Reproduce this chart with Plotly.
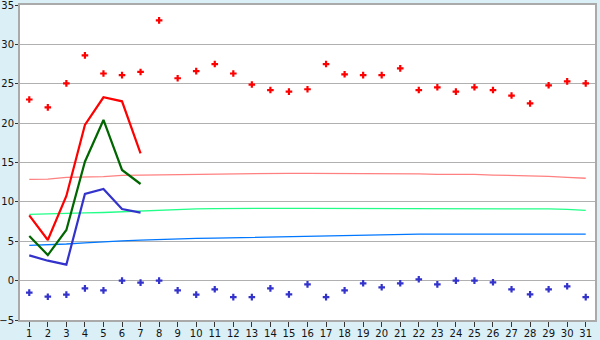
import plotly.graph_objects as go

days = list(range(1, 32))
max_pts = [23.0, 22.0, 25.05, 28.6, 26.3, 26.1, 26.5, 33.05, 25.7, 26.6,
           27.5, 26.3, 24.9, 24.2, 24.0, 24.3, 27.5, 26.2, 26.1, 26.1,
           26.95, 24.2, 24.55, 24.0, 24.55, 24.2, 23.5, 22.5, 24.8, 25.3, 25.05]
min_pts = [-1.53, -2.04, -1.78, -0.98, -1.24, 0.0, -0.26, 0.0, -1.24, -1.78,
           -1.1, -2.1, -2.1, -0.98, -1.74, -0.47, -2.1, -1.24, -0.34, -0.85,
           -0.34, 0.17, -0.47, 0.0, 0.0, -0.21, -1.1, -1.74, -1.1, -0.72, -2.1]
line_days = [1, 2, 3, 4, 5, 6, 7]
max_line = [8.29, 5.16, 10.75, 19.76, 23.28, 22.77, 16.17]
mean_line = [5.67, 3.25, 6.43, 15.1, 20.4, 14.05, 12.27]
min_line = [3.2, 2.53, 2.03, 11.0, 11.64, 9.1, 8.63]
norm_max = [12.86, 12.9, 13.1, 13.15, 13.2, 13.37, 13.4, 13.42, 13.45, 13.5,
            13.55, 13.63, 13.63, 13.63, 13.63, 13.63, 13.63, 13.63, 13.63, 13.63,
            13.63, 13.55, 13.5, 13.5, 13.5, 13.4, 13.37, 13.3, 13.25, 13.1, 13.0]
norm_mean = [8.42, 8.45, 8.55, 8.6, 8.65, 8.75, 8.85, 8.95, 9.05, 9.1,
             9.15, 9.18, 9.18, 9.18, 9.18, 9.18, 9.18, 9.18, 9.18, 9.18,
             9.18, 9.18, 9.18, 9.18, 9.18, 9.18, 9.18, 9.15, 9.1, 9.05, 8.93]
norm_min = [4.48, 4.55, 4.65, 4.8, 4.95, 5.05, 5.15, 5.25, 5.3, 5.37,
            5.4, 5.45, 5.5, 5.58, 5.62, 5.68, 5.72, 5.75, 5.8, 5.85,
            5.88, 5.9, 5.9, 5.9, 5.9, 5.9, 5.9, 5.9, 5.9, 5.9, 5.9]
y_ticks = [-5, 0, 5, 10, 15, 20, 25, 30, 35]

fig = go.Figure()
fig.add_trace(go.Scatter(x=days, y=norm_max, mode="lines", line=dict(color="#ff8080", width=1.3)))
fig.add_trace(go.Scatter(x=days, y=norm_mean, mode="lines", line=dict(color="#22ff88", width=1.3)))
fig.add_trace(go.Scatter(x=days, y=norm_min, mode="lines", line=dict(color="#0077ff", width=1.3)))
fig.add_trace(go.Scatter(x=line_days, y=max_line, mode="lines", line=dict(color="#ff0000", width=2.2)))
fig.add_trace(go.Scatter(x=line_days, y=mean_line, mode="lines", line=dict(color="#006600", width=2.2)))
fig.add_trace(go.Scatter(x=line_days, y=min_line, mode="lines", line=dict(color="#3333cc", width=2.2)))
fig.add_trace(go.Scatter(x=days, y=max_pts, mode="markers",
                         marker=dict(symbol="cross", size=5.5, color="#ff0000", line=dict(width=0))))
fig.add_trace(go.Scatter(x=days, y=min_pts, mode="markers",
                         marker=dict(symbol="cross", size=5.5, color="#3333cc", line=dict(width=0))))

fig.update_layout(
    width=600, height=340,
    margin=dict(l=20, r=5, t=5, b=20, autoexpand=False),
    paper_bgcolor="#daeff6", plot_bgcolor="#ffffff",
    showlegend=False,
    font=dict(family="DejaVu Sans", size=10, color="#111111"),
)
fig.update_xaxes(range=[0.5, 31.5], tickvals=days, ticks="outside", ticklen=5,
                 tickcolor="#333333", showgrid=False, showline=True, linecolor="#aaaaaa",
                 linewidth=2, mirror=True, zeroline=False, fixedrange=True, automargin=False,
                 ticklabelstandoff=-2, ticklabeloverflow="allow")
fig.update_yaxes(range=[-5, 35], tickvals=y_ticks, ticks="outside", ticklen=3,
                 tickcolor="#333333", showgrid=True, gridcolor="#b0b0b0", gridwidth=1,
                 showline=True, linecolor="#aaaaaa", linewidth=2, mirror=True,
                 zeroline=False, fixedrange=True, automargin=False, ticklabelstandoff=-1,
                 ticklabeloverflow="allow")

fig.write_html("out.html")
